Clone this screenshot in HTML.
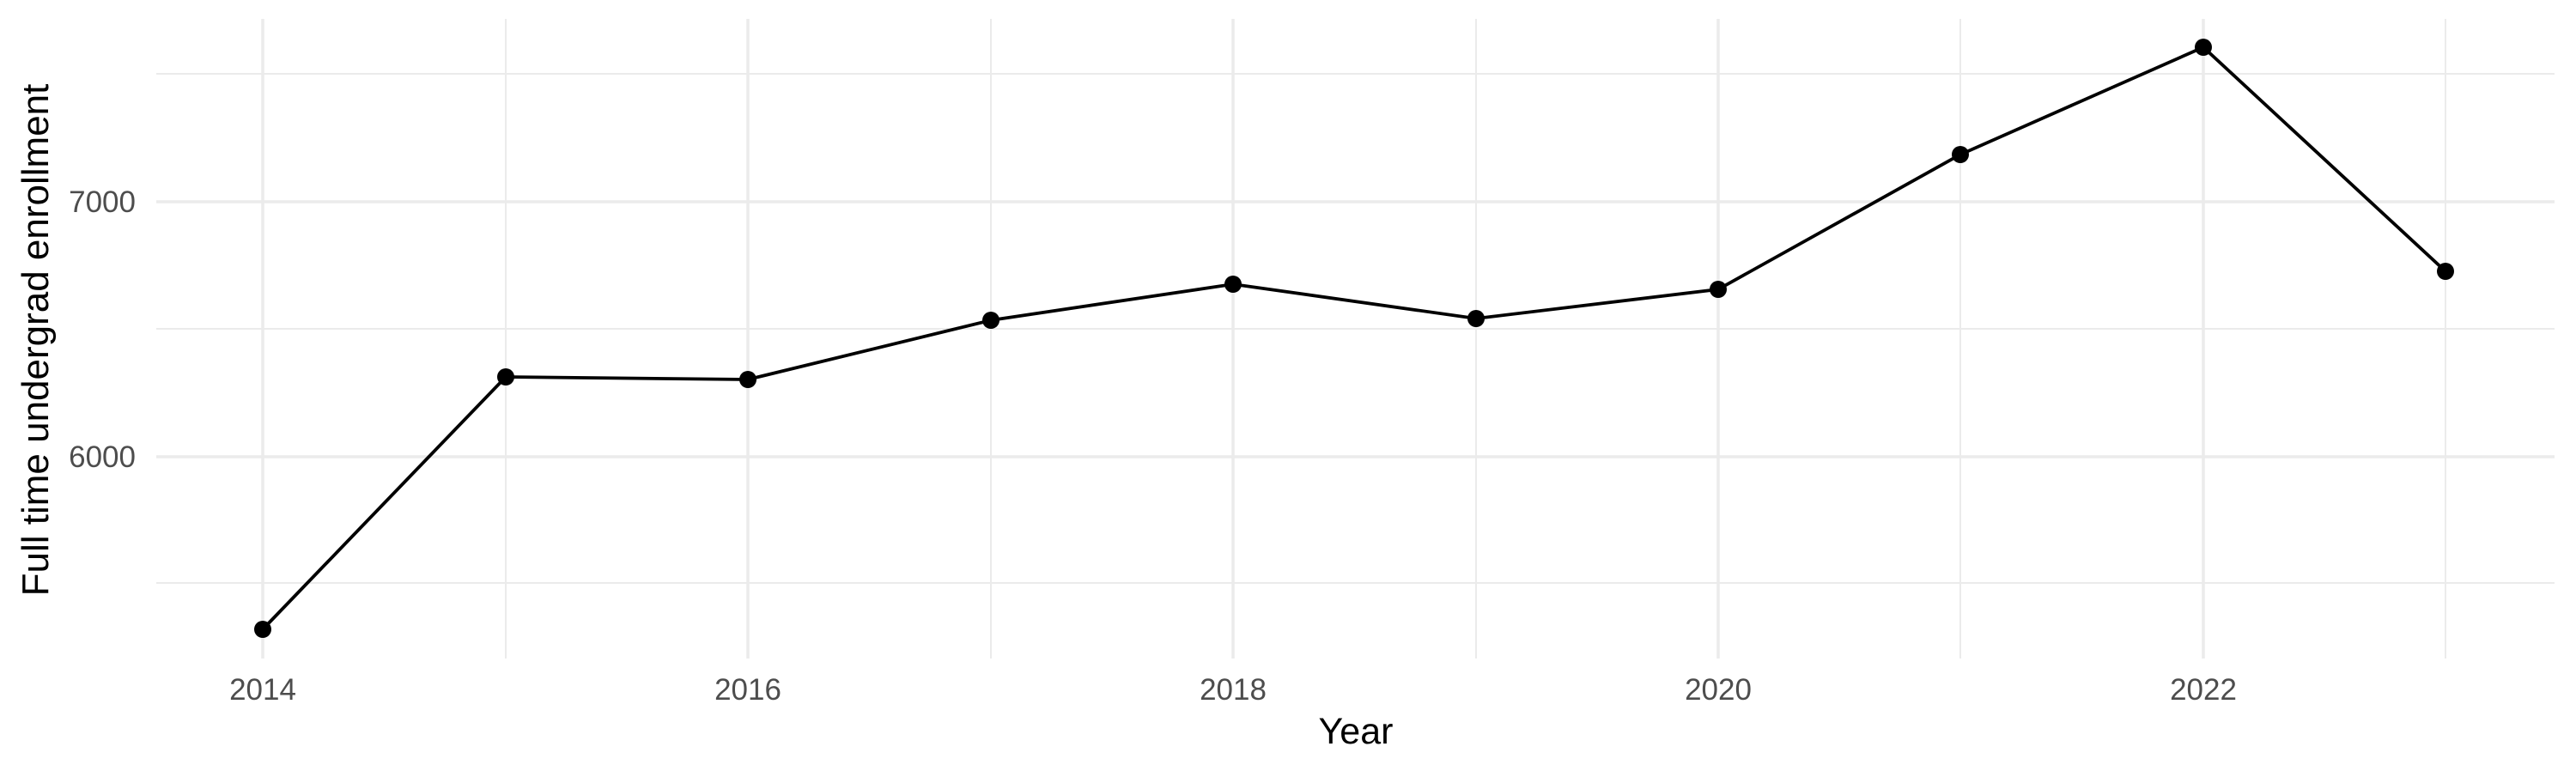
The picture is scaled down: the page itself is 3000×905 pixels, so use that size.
<!DOCTYPE html>
<html><head><style>html,body{margin:0;padding:0;background:#fff}</style></head>
<body>
<svg width="3000" height="900" xmlns="http://www.w3.org/2000/svg" font-family="Liberation Sans, sans-serif">
<rect width="3000" height="900" fill="#fff"/>
<g stroke="#ebebeb" stroke-width="2">
<line x1="182" x2="2975" y1="86" y2="86"/>
<line x1="182" x2="2975" y1="383" y2="383"/>
<line x1="182" x2="2975" y1="679" y2="679"/>
<line x1="589" x2="589" y1="22" y2="767"/>
<line x1="1154" x2="1154" y1="22" y2="767"/>
<line x1="1719" x2="1719" y1="22" y2="767"/>
<line x1="2283" x2="2283" y1="22" y2="767"/>
<line x1="2848" x2="2848" y1="22" y2="767"/>
</g>
<g stroke="#ebebeb" stroke-width="3.5">
<line x1="182" x2="2975" y1="235" y2="235"/>
<line x1="182" x2="2975" y1="532" y2="532"/>
<line x1="306" x2="306" y1="22" y2="767"/>
<line x1="871" x2="871" y1="22" y2="767"/>
<line x1="1436" x2="1436" y1="22" y2="767"/>
<line x1="2001" x2="2001" y1="22" y2="767"/>
<line x1="2566" x2="2566" y1="22" y2="767"/>
</g>
<polyline fill="none" stroke="#000" stroke-width="3.8" points="306,733 589,439 871,442 1154,373 1436,331 1719,371 2001,337 2283,180 2566,55 2848,316"/>
<g fill="#000">
<circle cx="306" cy="733" r="10"/><circle cx="589" cy="439" r="10"/><circle cx="871" cy="442" r="10"/><circle cx="1154" cy="373" r="10"/><circle cx="1436" cy="331" r="10"/><circle cx="1719" cy="371" r="10"/><circle cx="2001" cy="337" r="10"/><circle cx="2283" cy="180" r="10"/><circle cx="2566" cy="55" r="10"/><circle cx="2848" cy="316" r="10"/>
</g>
<g fill="#4d4d4d" font-size="35" text-anchor="middle">
<text x="306" y="815">2014</text><text x="871" y="815">2016</text><text x="1436" y="815">2018</text><text x="2001" y="815">2020</text><text x="2566" y="815">2022</text>
</g>
<g fill="#4d4d4d" font-size="35" text-anchor="end">
<text x="158" y="247">7000</text><text x="158" y="544">6000</text>
</g>
<text x="1579" y="866" font-size="43" text-anchor="middle" fill="#000">Year</text>
<text transform="translate(56,396) rotate(-90)" font-size="44" text-anchor="middle" fill="#000">Full time undergrad enrollment</text>
</svg>
</body></html>
